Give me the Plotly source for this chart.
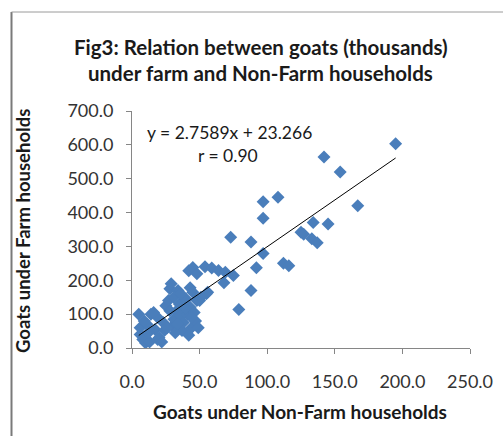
import plotly.graph_objects as go

# Goats (thousands) kept by non-farm households (x) and farm households (y)
non_farm = [
    5, 6, 8, 10, 6, 11, 13, 14, 17, 19, 19, 20, 22, 24, 25, 27, 28, 29, 30, 31,
    32, 33, 34, 35, 36, 37, 38, 40, 41, 43, 43, 44, 45, 46, 47, 48, 49, 50, 42, 16,
    28, 31, 36, 39, 34, 44, 12, 9, 23, 26,
    42, 45, 48, 54, 59, 64, 69, 75, 68, 56, 55, 51,
    73, 88, 97, 92, 88, 79, 112, 116, 108, 97, 97,
    125, 127, 134, 145, 133, 137, 142, 154, 167, 195,
]
farm = [
    100, 40, 25, 15, 60, 70, 18, 100, 55, 90, 25, 30, 18, 52, 125, 140, 175, 190, 65, 85,
    45, 110, 170, 130, 95, 52, 75, 145, 100, 120, 178, 60, 165, 105, 80, 140, 60, 140, 38, 105,
    110, 150, 160, 118, 70, 90, 45, 80, 75, 60,
    228, 238, 219, 240, 236, 229, 224, 214, 193, 165, 160, 150,
    327, 313, 279, 237, 170, 114, 250, 243, 445, 432, 383,
    342, 336, 371, 366, 323, 311, 564, 520, 420, 603,
]

# Linear trend reported on the chart
slope = 2.7589
intercept = 23.266
r_value = 0.90

x_ticks = [0, 50, 100, 150, 200, 250]
y_ticks = [0, 100, 200, 300, 400, 500, 600, 700]

W, H = 503, 436
L, R, T, B = 132, 33, 111, 88
PW, PH = W - L - R, H - T - B


def px_x(p):
    return (p - L) / PW


def px_y(p):
    return 1 - (p - T) / PH


FONT = "Lato"
TEXT = "#1a1a1a"
TICK_TEXT = "#333333"
BLUE = "#4a7ebb"
AXIS = "#868686"

fig = go.Figure()

fig.add_trace(go.Scatter(
    x=non_farm, y=farm, mode="markers",
    marker=dict(symbol="diamond", size=10, color=BLUE, line=dict(width=0)),
    showlegend=False, hoverinfo="x+y",
))

x_lo, x_hi = min(non_farm), max(non_farm)
fig.add_trace(go.Scatter(
    x=[x_lo, x_hi], y=[slope * x_lo + intercept, slope * x_hi + intercept],
    mode="lines", line=dict(color="#000000", width=1),
    showlegend=False, hoverinfo="skip",
))

axis_common = dict(
    showgrid=False, zeroline=False, showline=True, linecolor=AXIS, linewidth=1,
    ticks="outside", ticklen=5, tickcolor=AXIS, tickformat=".1f",
    tickfont=dict(family=FONT, size=18, color=TICK_TEXT), fixedrange=True,
)

fig.update_layout(
    width=W, height=H,
    margin=dict(l=L, r=R, t=T, b=B, autoexpand=False),
    paper_bgcolor="white", plot_bgcolor="white",
    xaxis=dict(range=[0, 250], tickvals=x_ticks, ticklabelstandoff=12, **axis_common),
    yaxis=dict(range=[0, 700], tickvals=y_ticks, ticklabelstandoff=9, **axis_common),
    font=dict(family=FONT, color=TEXT),
)

annotations = [
    dict(text="<b>Fig3: Relation between goats (thousands)</b>", x=px_x(261), y=px_y(47),
         font=dict(size=20.5)),
    dict(text="<b>under farm and Non-Farm households</b>", x=px_x(260), y=px_y(73),
         font=dict(size=20.5)),
    dict(text="<b>Goats under Non-Farm households</b>", x=px_x(300), y=px_y(411),
         font=dict(size=19)),
    dict(text="<b>Goats under Farm households</b>", x=px_x(23), y=px_y(231),
         font=dict(size=18.5), textangle=-90),
    dict(text=f"y = {slope}x + {intercept}", x=px_x(229), y=px_y(132),
         font=dict(size=17.5)),
    dict(text=f"r = {r_value:.2f}", x=px_x(228), y=px_y(155),
         font=dict(size=17.5)),
]
for a in annotations:
    a.update(xref="paper", yref="paper", showarrow=False,
             xanchor="center", yanchor="middle")
    a["font"].update(family=FONT, color=TEXT)
fig.update_layout(annotations=annotations)

# Chart frame: left and top edges
fig.add_shape(type="line", xref="paper", yref="paper",
              x0=px_x(11.5), x1=px_x(11.5), y0=px_y(12), y1=px_y(440),
              line=dict(color="#7a7a7a", width=2))
fig.add_shape(type="line", xref="paper", yref="paper",
              x0=px_x(11.5), x1=px_x(510), y0=px_y(12), y1=px_y(12),
              line=dict(color="#9a9a9a", width=1))

fig.write_html("out.html", config=dict(displayModeBar=False))
